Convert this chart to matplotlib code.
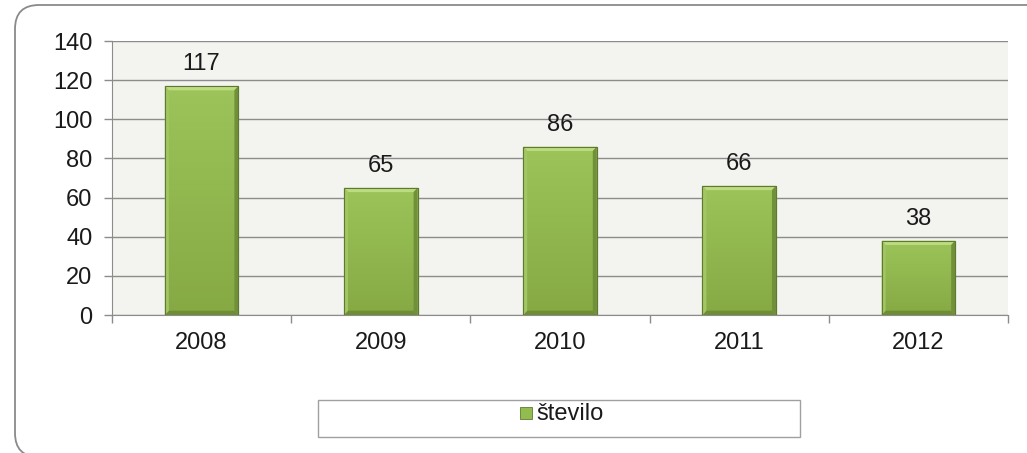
import matplotlib
matplotlib.use("Agg")
import matplotlib.pyplot as plt
from matplotlib.patches import FancyBboxPatch, Rectangle, Polygon
from matplotlib.colors import LinearSegmentedColormap
import numpy as np

years = ["2008", "2009", "2010", "2011", "2012"]
values = [117, 65, 86, 66, 38]
series_name = "število"

plt.rcParams['font.family'] = ['Liberation Sans', 'DejaVu Sans']

W, H = 1027, 453
fig = plt.figure(figsize=(W/100, H/100), dpi=100)
fig.patch.set_facecolor("white")

# outer rounded frame (extends past right and bottom edges)
frame = FancyBboxPatch((15/W, -4/H), (1040/W), (452/H),
                       boxstyle="round,pad=0,rounding_size=%f" % (24/W),
                       transform=fig.transFigure, fill=False,
                       edgecolor="#8a8a8a", linewidth=1.3, mutation_aspect=W/H,
                       clip_on=False)
fig.patches.append(frame)

ax = fig.add_axes([112/W, 1 - 315/H, (1008-112)/W, (315-41)/H])
ax.set_facecolor("#f3f3ef")
x = np.arange(len(years))
bw = 0.41
bars = ax.bar(x, values, width=bw, color="#92bb50", edgecolor="#5f7a30",
              linewidth=0.8, zorder=3)

cmap = LinearSegmentedColormap.from_list("g", ["#86a944", "#9cc45a"])
grad = np.linspace(0, 1, 64).reshape(-1, 1)

# gradient fill + bevel highlights
for b, xi, v in zip(bars, x, values):
    l, r = xi - bw/2, xi + bw/2
    im = ax.imshow(grad, extent=(l, r, 0, v), origin="lower", aspect="auto",
                   cmap=cmap, zorder=3.5)
    im.set_clip_path(b)
    dx = 0.022
    dy = 2.2
    ax.add_patch(Polygon([(l, v), (r, v), (r-dx, v-dy), (l+dx, v-dy)],
                         closed=True, facecolor="#bddc82", edgecolor="none", zorder=4))
    ax.add_patch(Polygon([(l, 0), (r, 0), (r-dx, dy), (l+dx, dy)],
                         closed=True, facecolor="#6f8d36", edgecolor="none", zorder=4))
    ax.add_patch(Polygon([(l, 0), (l, v), (l+dx, v-dy), (l+dx, dy)],
                         closed=True, facecolor="#a2c663", edgecolor="none", zorder=4))
    ax.add_patch(Polygon([(r, 0), (r, v), (r-dx, v-dy), (r-dx, dy)],
                         closed=True, facecolor="#71903a", edgecolor="none", zorder=4))
    ax.add_patch(Rectangle((l, 0), bw, v, fill=False, edgecolor="#5f7a30",
                           linewidth=0.8, zorder=4.5))
    ax.text(xi, v + 5.5, str(v), ha="center", va="bottom", fontsize=17, color="#1a1a1a", zorder=5)

ax.set_xlim(-0.5, len(years) - 0.5)
ax.set_ylim(0, 140)
ax.set_yticks(range(0, 141, 20))
ax.yaxis.grid(True, color="#8c8c8c", linewidth=1.0, zorder=0)
ax.set_axisbelow(True)
ax.set_xticks(x)
ax.set_xticklabels(years)
ax.set_xticks(np.arange(-0.5, len(years)), minor=True)
ax.tick_params(axis="x", which="major", length=0, pad=12, labelsize=17, colors="#1a1a1a")
ax.tick_params(axis="x", which="minor", length=6, width=1, color="#8c8c8c", direction="out")
ax.tick_params(axis="y", length=6, width=1, color="#8c8c8c", direction="out", pad=8,
               labelsize=17, labelcolor="#1a1a1a")
for s in ["top", "right"]:
    ax.spines[s].set_visible(False)
ax.spines["left"].set_color("#8c8c8c")
ax.spines["bottom"].set_color("#8c8c8c")

# legend box
lx0, lx1, ly0, ly1 = 318, 800, 400, 437
fig.patches.append(Rectangle((lx0/W, 1 - ly1/H), (lx1-lx0)/W, (ly1-ly0)/H,
                             transform=fig.transFigure, fill=True, facecolor="white",
                             edgecolor="#a0a0a0", linewidth=1.0))
fig.patches.append(Rectangle((520/W, 1 - 419/H), 12/W, 12/H, transform=fig.transFigure,
                             facecolor="#92bb50", edgecolor="#5f7a30", linewidth=0.6))
fig.text(536/W, 1 - 414/H, series_name, ha="left", va="center", fontsize=17, color="#1a1a1a")

fig.savefig("out.png", dpi=100, facecolor="white")
